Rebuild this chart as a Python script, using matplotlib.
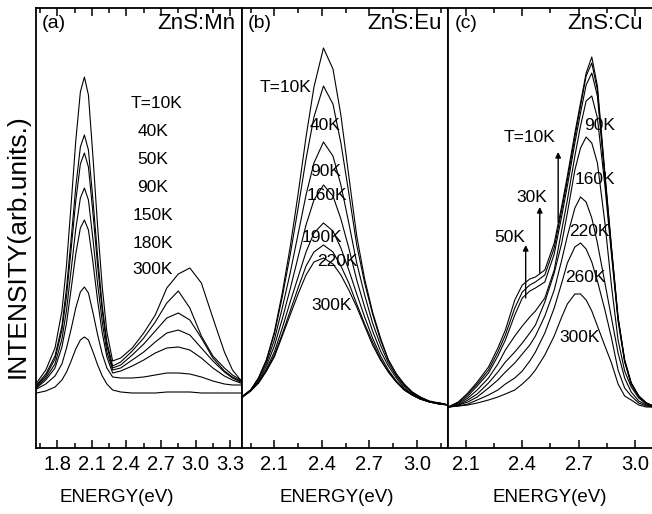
"""Temperature-dependent PL spectra of ZnS:Mn, ZnS:Eu and ZnS:Cu (three panels)."""

import matplotlib

matplotlib.use("Agg")
import matplotlib.pyplot as plt
from matplotlib.ticker import MultipleLocator

plt.rcParams["font.family"] = ["Liberation Sans", "DejaVu Sans"]

# ---- (a) ZnS:Mn -----------------------------------------------------------
mn_energy = [1.62, 1.70, 1.78, 1.84, 1.88, 1.92, 1.96, 2.00, 2.035, 2.07, 2.11,
             2.15, 2.19, 2.23, 2.28, 2.35, 2.45, 2.55, 2.65, 2.75, 2.85, 2.95,
             3.05, 3.15, 3.25, 3.32, 3.39]
mn_10k = [65, 78, 100, 137, 183, 244, 307, 356, 371, 353, 290, 221, 161, 116,
          87, 90, 100, 115, 133, 160, 174, 180, 165, 130, 96, 78, 68]
mn_40k = [63, 74, 92, 122, 160, 209, 261, 301, 313, 298, 247, 191, 142, 106,
          82, 86, 97, 110, 126, 145, 157, 140, 112, 92, 80, 73, 68]
mn_50k = [62, 72, 89, 118, 152, 199, 247, 284, 295, 281, 234, 182, 137, 102,
          80, 83, 93, 104, 117, 130, 135, 128, 110, 90, 77, 71, 67]
mn_90k = [61, 70, 84, 109, 138, 178, 219, 250, 260, 248, 208, 164, 126, 96,
          78, 80, 88, 96, 106, 115, 118, 113, 100, 87, 76, 70, 66]
mn_150k = [60, 68, 80, 101, 125, 159, 194, 220, 228, 218, 185, 147, 115, 91,
           75, 77, 82, 88, 95, 100, 101, 98, 90, 80, 72, 68, 65]
mn_180k = [59, 64, 72, 84, 100, 119, 140, 156, 161, 155, 135, 113, 94, 80,
           71, 70, 70, 71, 73, 75, 75, 74, 71, 67, 64, 63, 63]
mn_300k = [55, 57, 61, 68, 76, 87, 99, 108, 111, 108, 96, 83, 72, 64,
           58, 56, 55, 55, 55, 56, 56, 56, 55, 55, 55, 55, 55]
mn_labels = ["T=10K", "40K", "50K", "90K", "150K", "180K", "300K"]
mn_label_e = [2.66, 2.63, 2.63, 2.63, 2.63, 2.63, 2.63]
mn_label_i = [345, 316, 288, 260, 233, 205, 178]

# ---- (b) ZnS:Eu -----------------------------------------------------------
eu_energy = [1.894, 1.95, 2.00, 2.05, 2.10, 2.15, 2.20, 2.25, 2.30, 2.35, 2.41,
             2.47, 2.52, 2.57, 2.62, 2.67, 2.72, 2.77, 2.82, 2.87, 2.92, 2.97,
             3.02, 3.08, 3.14, 3.198]
eu_1 = [50, 57, 70, 88, 116, 155, 201, 254, 311, 361, 400, 379, 333, 272, 212,
        169, 136, 110, 88, 74, 64, 56, 51, 47, 45, 43]
eu_2 = [51, 58, 70, 88, 114, 151, 193, 240, 289, 331, 362, 344, 305, 255, 203,
        165, 134, 108, 88, 74, 63, 56, 51, 46, 45, 43]
eu_3 = [51, 58, 69, 85, 108, 140, 175, 214, 253, 285, 306, 292, 263, 225, 185,
        153, 125, 103, 85, 72, 62, 55, 51, 46, 45, 43]
eu_4 = [51, 58, 67, 82, 102, 129, 159, 191, 223, 248, 263, 252, 229, 200, 168,
        141, 117, 97, 82, 70, 60, 54, 50, 46, 45, 43]
eu_5 = [51, 57, 66, 79, 96, 120, 146, 171, 196, 215, 225, 217, 200, 178, 154,
        131, 110, 92, 78, 67, 59, 53, 49, 46, 44, 43]
eu_6 = [51, 57, 65, 77, 93, 114, 137, 160, 182, 196, 203, 196, 182, 165, 144,
        124, 106, 89, 76, 66, 58, 53, 49, 46, 44, 43]
eu_7 = [51, 57, 65, 77, 91, 112, 133, 154, 173, 186, 190, 184, 173, 158, 141,
        122, 103, 88, 76, 66, 58, 53, 49, 46, 44, 43]
eu_labels = ["T=10K", "40K", "90K", "160K", "190K", "220K", "300K"]
eu_label_e = [2.168, 2.421, 2.421, 2.434, 2.40, 2.495, 2.464]
eu_label_i = [361, 323, 276, 253, 210, 186, 143]

# ---- (c) ZnS:Cu -----------------------------------------------------------
cu_energy = [2.006, 2.06, 2.11, 2.16, 2.22, 2.27, 2.31, 2.36, 2.40, 2.44, 2.47,
             2.52, 2.57, 2.61, 2.64, 2.68, 2.71, 2.74, 2.77, 2.80, 2.84, 2.875,
             2.91, 2.945, 2.98, 3.02, 3.06, 3.096]
cu_10k = [41, 46, 55, 66, 81, 100, 118, 148, 163, 169, 171, 178, 205, 242, 272,
          315, 345, 375, 391, 362, 275, 201, 131, 88, 65, 52, 45, 42]
cu_30k = [41, 46, 54, 64, 78, 96, 113, 140, 156, 163, 166, 173, 200, 238, 268,
          311, 342, 372, 385, 358, 272, 199, 130, 88, 65, 52, 45, 42]
cu_50k = [41, 45, 52, 62, 75, 92, 108, 133, 150, 157, 160, 166, 194, 232, 262,
          305, 335, 363, 375, 352, 270, 197, 129, 87, 64, 52, 45, 42]
cu_90k = [41, 44, 50, 58, 70, 84, 98, 112, 122, 131, 137, 150, 178, 218, 248,
          292, 322, 347, 352, 330, 262, 193, 127, 86, 64, 51, 45, 42]
cu_160k = [41, 43, 48, 54, 65, 76, 86, 96, 105, 115, 123, 146, 175, 205, 235,
           278, 300, 311, 305, 285, 225, 162, 108, 77, 61, 50, 44, 42]
cu_220k = [41, 43, 46, 51, 60, 68, 76, 85, 94, 103, 112, 132, 158, 188, 212,
           240, 251, 246, 230, 205, 165, 130, 95, 70, 56, 47, 43, 41]
cu_260k = [41, 42, 44, 48, 53, 58, 64, 70, 77, 87, 96, 115, 140, 165, 185,
           201, 205, 199, 186, 167, 138, 110, 78, 60, 52, 45, 42, 41]
cu_300k = [41, 42, 43, 45, 48, 51, 54, 58, 64, 71, 78, 93, 112, 131, 144,
           154, 154, 148, 137, 122, 102, 85, 64, 52, 48, 43, 41, 41]
cu_labels = ["90K", "T=10K", "160K", "30K", "220K", "50K", "260K", "300K"]
cu_label_e = [2.813, 2.44, 2.786, 2.449, 2.759, 2.333, 2.733, 2.706]
cu_label_i = [323, 310, 268, 251, 216, 210, 170, 110]
# arrows from the low-T shoulders up to their labels: (energy, tail, head)
cu_arrow_e = [2.591, 2.493, 2.418]
cu_arrow_tail = [226, 175, 150]
cu_arrow_head = [296, 241, 203]

W, H = 652, 514
fig = plt.figure(figsize=(W / 100, H / 100), dpi=100)
bottom, top = (H - 448) / H, (H - 8) / H
edges = [36, 241.7, 448.3, 653]
axes = [fig.add_axes([edges[i] / W, bottom, (edges[i + 1] - edges[i]) / W, top - bottom])
        for i in range(3)]
ax_a, ax_b, ax_c = axes

for curve in (mn_10k, mn_40k, mn_50k, mn_90k, mn_150k, mn_180k, mn_300k):
    ax_a.plot(mn_energy, curve, color="black", lw=0.8)
for curve in (eu_1, eu_2, eu_3, eu_4, eu_5, eu_6, eu_7):
    ax_b.plot(eu_energy, curve, color="black", lw=0.8)
for curve in (cu_10k, cu_30k, cu_50k, cu_90k, cu_160k, cu_220k, cu_260k, cu_300k):
    ax_c.plot(cu_energy, curve, color="black", lw=0.8)

for lab, e, i in zip(mn_labels, mn_label_e, mn_label_i):
    ax_a.text(e, i, lab, ha="center", va="center", fontsize=12.5)
for lab, e, i in zip(eu_labels, eu_label_e, eu_label_i):
    ax_b.text(e, i, lab, ha="center", va="center", fontsize=12.5)
for lab, e, i in zip(cu_labels, cu_label_e, cu_label_i):
    ax_c.text(e, i, lab, ha="center", va="center", fontsize=12.5)
for e, t, h in zip(cu_arrow_e, cu_arrow_tail, cu_arrow_head):
    ax_c.annotate("", xy=(e, h), xytext=(e, t),
                  arrowprops=dict(arrowstyle="-|>", lw=1.0, color="black",
                                  mutation_scale=8, shrinkA=0, shrinkB=0))

xlims = [(1.615, 3.40), (1.894, 3.198), (2.006, 3.096)]
tags = ["(a)", "(b)", "(c)"]
names = ["ZnS:Mn", "ZnS:Eu", "ZnS:Cu"]
name_x = [0.97, 0.97, (643 - 448.3) / (653 - 448.3)]
xlabel_x = [0.394, 0.461, 0.497]
for ax, xl, tag, name, nx, lx in zip(axes, xlims, tags, names, name_x, xlabel_x):
    ax.set_xlim(*xl)
    ax.set_ylim(0, 440)
    ax.xaxis.set_major_locator(MultipleLocator(0.3))
    ax.xaxis.set_minor_locator(MultipleLocator(0.15))
    ax.tick_params(axis="x", which="both", direction="in", top=True, width=1.1,
                   labelsize=14.5, pad=5)
    ax.tick_params(axis="x", which="major", length=6)
    ax.tick_params(axis="x", which="minor", length=3.5)
    ax.tick_params(axis="y", left=False, labelleft=False)
    for sp in ax.spines.values():
        sp.set_linewidth(1.3)
    ax.set_xlabel("ENERGY(eV)", fontsize=13.5)
    ax.xaxis.set_label_coords(lx, -0.093)
    ax.text(0.03, 0.965, tag, transform=ax.transAxes, ha="left", va="center",
            fontsize=14)
    ax.text(nx, 0.965, name, transform=ax.transAxes, ha="right", va="center",
            fontsize=16)

fig.text(18 / W, 1 - 246 / H, "INTENSITY(arb.units.)", rotation=90,
         ha="center", va="center", fontsize=19)

fig.savefig("out.png", dpi=100)
